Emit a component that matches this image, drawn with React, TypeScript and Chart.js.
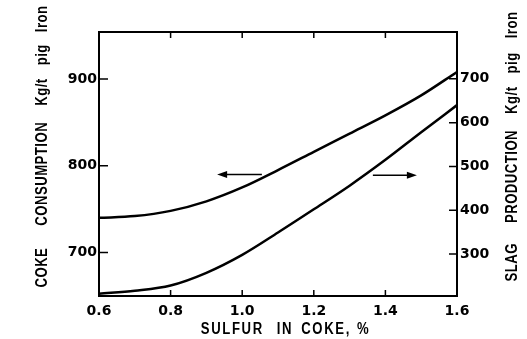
import { useEffect, useRef } from "react";
import { Chart, registerables } from "chart.js";
Chart.register(...registerables);

// ---- data ----
const sulfurPct = [0.6, 0.7, 0.8, 0.9, 1.0, 1.1, 1.2, 1.3, 1.4, 1.5, 1.6];
const cokeConsumption = [740, 742, 748, 759, 775, 795, 816, 837, 858, 881, 908];
const slagProduction = [209, 216, 228, 257, 298, 349, 402, 456, 515, 578, 640];
const xTickValues = [0.6, 0.8, 1.0, 1.2, 1.4, 1.6];
const cokeTickValues = [700, 800, 900];
const slagTickValues = [300, 400, 500, 600, 700];
const xTitleWords = ["SULFUR", "IN", "COKE,", "%"];
const cokeTitleWords = ["COKE", "CONSUMPTION", "Kg/t", "pig", "Iron"];
const slagTitleWords = ["SLAG", "PRODUCTION", "Kg/t", "pig", "Iron"];
const cokeArrow = { from: 1.055, to: 0.93, value: 790 };
const slagArrow = { from: 1.365, to: 1.488, value: 480 };

const TICK_FONT = { family: "'DejaVu Sans', sans-serif", size: 14, weight: "bold" as const };
const TITLE_FONT = "bold 16px 'Liberation Sans', Arial, sans-serif";
const NARROW = 0.82;

function drawWords(ctx: CanvasRenderingContext2D, words: string[], gaps: number[], cx: number, cy: number, rot: number, spacing: number) {
  ctx.save();
  ctx.translate(cx, cy);
  ctx.rotate(rot);
  ctx.scale(NARROW, 1);
  ctx.font = TITLE_FONT;
  (ctx as any).letterSpacing = spacing + "px";
  ctx.fillStyle = "#000";
  ctx.textBaseline = "middle";
  ctx.textAlign = "left";
  const widths = words.map((w) => ctx.measureText(w).width);
  const g = gaps.map((v) => v / NARROW);
  const total = widths.reduce((a, b) => a + b, 0) + g.reduce((a, b) => a + b, 0);
  let x = -total / 2;
  words.forEach((w, i) => {
    ctx.fillText(w, x, 0);
    x += widths[i] + (g[i] || 0);
  });
  ctx.restore();
}

function drawArrow(ctx: CanvasRenderingContext2D, x1: number, x2: number, y: number) {
  const dir = Math.sign(x2 - x1);
  ctx.beginPath();
  ctx.lineWidth = 1.5;
  ctx.moveTo(x1, y);
  ctx.lineTo(x2 - dir * 6, y);
  ctx.stroke();
  ctx.beginPath();
  ctx.moveTo(x2, y);
  ctx.lineTo(x2 - dir * 10, y - 3.5);
  ctx.lineTo(x2 - dir * 10, y + 3.5);
  ctx.closePath();
  ctx.fill();
}

const framePlugin = {
  id: "frame",
  afterDatasetsDraw(chart: any) {
    const { ctx, chartArea: a, scales } = chart;
    ctx.save();
    ctx.strokeStyle = "#000";
    ctx.fillStyle = "#000";
    ctx.lineWidth = 2;
    ctx.strokeRect(a.left, a.top, a.right - a.left, a.bottom - a.top);
    ctx.lineWidth = 1.5;
    ctx.beginPath();
    for (const v of xTickValues) {
      const px = scales.x.getPixelForValue(v);
      if (px <= a.left + 1 || px >= a.right - 1) continue;
      ctx.moveTo(px, a.bottom);
      ctx.lineTo(px, a.bottom - 6);
      ctx.moveTo(px, a.top);
      ctx.lineTo(px, a.top + 6);
    }
    for (const v of cokeTickValues) {
      const py = scales.y.getPixelForValue(v);
      ctx.moveTo(a.left, py);
      ctx.lineTo(a.left + 9, py);
    }
    for (const v of slagTickValues) {
      const py = scales.y1.getPixelForValue(v);
      ctx.moveTo(a.right, py);
      ctx.lineTo(a.right - 8, py);
    }
    ctx.stroke();

    drawArrow(ctx, scales.x.getPixelForValue(cokeArrow.from), scales.x.getPixelForValue(cokeArrow.to), scales.y.getPixelForValue(cokeArrow.value));
    drawArrow(ctx, scales.x.getPixelForValue(slagArrow.from), scales.x.getPixelForValue(slagArrow.to), scales.y1.getPixelForValue(slagArrow.value));

    drawWords(ctx, xTitleWords, [13, 8, 6], 285.5, 330, 0, 2);
    drawWords(ctx, cokeTitleWords, [22, 16, 13, 12], 43, 146.5, -Math.PI / 2, 0.6);
    drawWords(ctx, slagTitleWords, [20, 16, 13, 14], 513, 146.5, -Math.PI / 2, 0.6);
    ctx.restore();
  },
};

export default function App() {
  const ref = useRef<HTMLCanvasElement>(null);
  useEffect(() => {
    document.body.style.margin = "0";
    const chart = new Chart(ref.current!, {
      type: "line",
      data: {
        datasets: [
          {
            label: "Coke consumption",
            data: sulfurPct.map((x, i) => ({ x, y: cokeConsumption[i] })),
            yAxisID: "y",
            borderColor: "#000",
            borderWidth: 2.5,
            pointRadius: 0,
            cubicInterpolationMode: "monotone",
          },
          {
            label: "Slag production",
            data: sulfurPct.map((x, i) => ({ x, y: slagProduction[i] })),
            yAxisID: "y1",
            borderColor: "#000",
            borderWidth: 2.5,
            pointRadius: 0,
            cubicInterpolationMode: "monotone",
          },
        ],
      },
      options: {
        animation: false,
        responsive: false,
        layout: { padding: { top: 32, left: 0, right: 0, bottom: 0 } },
        plugins: { legend: { display: false }, tooltip: { enabled: false } },
        scales: {
          x: {
            type: "linear",
            min: 0.6,
            max: 1.6,
            afterBuildTicks: (s: any) => { s.ticks = xTickValues.map((value) => ({ value })); },
            afterFit: (s: any) => { s.height = 43; },
            grid: { display: false, drawTicks: false },
            border: { display: false },
            ticks: { font: TICK_FONT, color: "#000", padding: 7, maxRotation: 0, callback: (v: any) => Number(v).toFixed(1) },
          },
          y: {
            type: "linear",
            position: "left",
            min: 650,
            max: 954,
            afterBuildTicks: (s: any) => { s.ticks = cokeTickValues.map((value) => ({ value })); },
            afterFit: (s: any) => { s.width = 99; },
            grid: { display: false, drawTicks: false },
            border: { display: false },
            ticks: { font: TICK_FONT, color: "#000", padding: 2 },
          },
          y1: {
            type: "linear",
            position: "right",
            min: 204,
            max: 807,
            afterBuildTicks: (s: any) => { s.ticks = slagTickValues.map((value) => ({ value })); },
            afterFit: (s: any) => { s.width = 70; },
            grid: { display: false, drawTicks: false },
            border: { display: false },
            ticks: { font: TICK_FONT, color: "#000", padding: 3 },
          },
        },
      },
      plugins: [framePlugin],
    } as any);
    return () => chart.destroy();
  }, []);
  return (
    <div style={{ width: 527, height: 339, background: "#fff" }}>
      <canvas ref={ref} width={527} height={339} style={{ display: "block" }} />
    </div>
  );
}
